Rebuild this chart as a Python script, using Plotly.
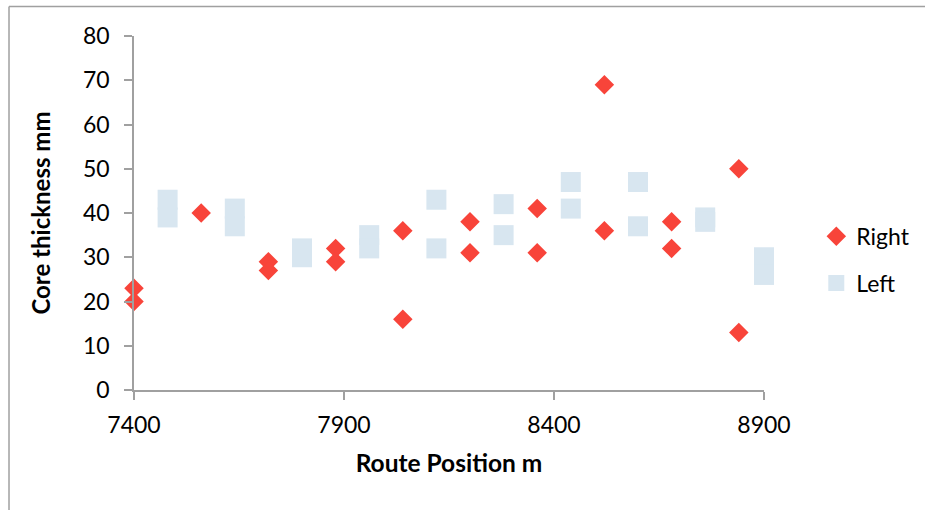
import plotly.graph_objects as go

# Data
right_x = [7400, 7400, 7560, 7720, 7720, 7880, 7880, 8040, 8040, 8200, 8200,
           8360, 8360, 8520, 8520, 8680, 8680, 8840, 8840]
right_y = [23, 20, 40, 29, 27, 32, 29, 36, 16, 38, 31,
           41, 31, 69, 36, 38, 32, 50, 13]

left_x = [7480, 7480, 7640, 7640, 7800, 7800, 7960, 7960, 8120, 8120,
          8280, 8280, 8440, 8440, 8600, 8600, 8760, 8760, 8900, 8900]
left_y = [43, 39, 41, 37, 32, 30, 35, 32, 43, 32,
          42, 35, 47, 41, 47, 37, 39, 38, 30, 26]

x_ticks = [7400, 7900, 8400, 8900]
y_ticks = [0, 10, 20, 30, 40, 50, 60, 70, 80]

RED = "#F8443A"
BLUE = "#D8E6F0"
AXIS = "#A0A0A0"
FONT = "Lato"

fig = go.Figure()
fig.add_trace(go.Scatter(
    x=right_x, y=right_y, mode="markers", name="Right", legendgroup="r",
    cliponaxis=False,
    marker=dict(symbol="diamond", size=15, color=RED, line=dict(width=0)),
))
fig.add_trace(go.Scatter(
    x=left_x, y=left_y, mode="markers", name="Left", legendgroup="l",
    cliponaxis=False,
    marker=dict(symbol="square", size=20, color=BLUE, line=dict(width=0)),
))

# outer chart border (top and left edges visible)
fig.add_shape(type="line", xref="paper", yref="paper",
              x0=-0.1984, x1=1.3, y0=1.0833, y1=1.0833,
              line=dict(color=AXIS, width=1.5))
fig.add_shape(type="line", xref="paper", yref="paper",
              x0=-0.1984, x1=-0.1984, y0=1.0833, y1=-0.4,
              line=dict(color=AXIS, width=1.5))

fig.update_layout(
    width=925, height=510,
    margin=dict(l=134, r=161, t=36, b=120, autoexpand=False),
    paper_bgcolor="white", plot_bgcolor="white",
    font=dict(family=FONT, size=23, color="black"),
    showlegend=True,
    legend=dict(x=1.083, y=0.495, xanchor="left", yanchor="top",
                font=dict(family=FONT, size=23, color="black"),
                tracegroupgap=14, bgcolor="rgba(0,0,0,0)"),
    xaxis=dict(
        range=[7400, 8900], tickvals=x_ticks, ticktext=[str(v) for v in x_ticks],
        automargin=False,
        showgrid=False, zeroline=False, showline=True, linecolor=AXIS, linewidth=1.5,
        ticks="outside", ticklen=8, tickcolor=AXIS, tickwidth=1.5,
        ticklabelstandoff=6,
        title=dict(text="<b>Route Position m</b>", standoff=18,
                   font=dict(family=FONT, size=24.5, color="black")),
    ),
    yaxis=dict(
        range=[0, 80], tickvals=y_ticks,
        automargin=False,
        showgrid=False, zeroline=False, showline=True, linecolor=AXIS, linewidth=1.5,
        ticks="outside", ticklen=8, tickcolor=AXIS, tickwidth=1.5,
        ticklabelstandoff=10,
        title=dict(text="<b>Core thickness mm</b>", standoff=26,
                   font=dict(family=FONT, size=24, color="black")),
    ),
)

fig.write_html("out.html")
